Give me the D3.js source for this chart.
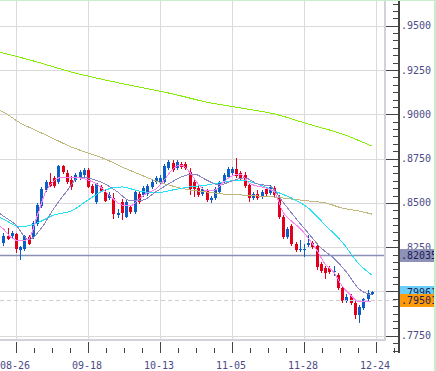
<!DOCTYPE html>
<html>
<head>
<meta charset="utf-8">
<title>Candle Chart</title>
<script src="https://d3js.org/d3.v7.min.js"></script>
<style>
  body { margin: 0; background: #fff; }
  svg text { font-family: "DejaVu Sans Mono", monospace; font-size: 10px; fill: #4c4c86; }
</style>
</head>
<body>
<div id="chart"></div>
<script>
var width = 436, height = 371;

// x axis: candle index of each date label
var tickIdx = [3, 20, 37, 54, 71, 88];
var tickLabels = ["08-26", "09-18", "10-13", "11-05", "11-28", "12-24"];
var priceTicks = [0.7750, 0.8000, 0.8250, 0.8500, 0.8750, 0.9000, 0.9250, 0.9500];

// daily candles, index 0..87
var opens = [0.8274,0.8313,0.8313,0.8325,0.8234,0.8240,0.8308,0.8308,0.8381,0.8483,
  0.8573,0.8618,0.8641,0.8618,0.8708,0.8669,0.8629,0.8629,0.8641,0.8657,
  0.8686,0.8595,0.8505,0.8590,0.8562,0.8528,0.8528,0.8432,0.8505,0.8420,
  0.8477,0.8449,0.8550,0.8545,0.8550,0.8590,0.8618,0.8612,0.8618,0.8697,
  0.8725,0.8697,0.8720,0.8720,0.8674,0.8618,0.8584,0.8550,0.8567,0.8516,
  0.8528,0.8562,0.8618,0.8646,0.8669,0.8691,0.8669,0.8657,0.8601,0.8528,
  0.8550,0.8533,0.8578,0.8556,0.8584,0.8533,0.8420,0.8308,0.8370,0.8268,
  0.8234,0.8234,0.8262,0.8274,0.8257,0.8155,0.8133,0.8133,0.8110,0.8093,
  0.8020,0.7947,0.7975,0.7935,0.7867,0.7907,0.7958,0.7986];
var highs = [0.8330,0.8358,0.8341,0.8330,0.8257,0.8319,0.8319,0.8398,0.8500,0.8590,
  0.8629,0.8669,0.8652,0.8714,0.8714,0.8686,0.8652,0.8669,0.8686,0.8697,
  0.8697,0.8607,0.8612,0.8601,0.8573,0.8562,0.8556,0.8466,0.8522,0.8522,
  0.8488,0.8573,0.8562,0.8595,0.8607,0.8629,0.8652,0.8657,0.8720,0.8742,
  0.8742,0.8742,0.8731,0.8731,0.8697,0.8629,0.8595,0.8590,0.8578,0.8539,
  0.8590,0.8624,0.8669,0.8703,0.8703,0.8753,0.8680,0.8674,0.8612,0.8562,
  0.8573,0.8573,0.8590,0.8601,0.8595,0.8545,0.8432,0.8364,0.8381,0.8279,
  0.8291,0.8268,0.8319,0.8285,0.8268,0.8167,0.8144,0.8144,0.8144,0.8104,
  0.8031,0.7986,0.7986,0.7947,0.7924,0.7963,0.8008,0.8003];
var lows = [0.8257,0.8291,0.8296,0.8217,0.8178,0.8229,0.8262,0.8296,0.8370,0.8471,
  0.8562,0.8590,0.8584,0.8607,0.8663,0.8607,0.8573,0.8618,0.8629,0.8641,
  0.8584,0.8550,0.8494,0.8562,0.8505,0.8516,0.8409,0.8415,0.8404,0.8415,
  0.8437,0.8437,0.8494,0.8533,0.8539,0.8578,0.8607,0.8601,0.8607,0.8686,
  0.8674,0.8686,0.8691,0.8686,0.8545,0.8533,0.8533,0.8539,0.8505,0.8500,
  0.8516,0.8550,0.8607,0.8635,0.8657,0.8641,0.8629,0.8584,0.8505,0.8516,
  0.8516,0.8522,0.8539,0.8545,0.8533,0.8409,0.8296,0.8296,0.8257,0.8223,
  0.8223,0.8195,0.8251,0.8240,0.8121,0.8104,0.8071,0.8099,0.8087,0.8008,
  0.7935,0.7935,0.7924,0.7845,0.7822,0.7896,0.7947,0.7980];
var closes = [0.8313,0.8296,0.8330,0.8240,0.8251,0.8313,0.8268,0.8387,0.8488,0.8578,
  0.8618,0.8595,0.8595,0.8708,0.8674,0.8618,0.8590,0.8657,0.8674,0.8686,
  0.8590,0.8556,0.8612,0.8567,0.8511,0.8545,0.8437,0.8443,0.8443,0.8505,
  0.8449,0.8562,0.8505,0.8584,0.8595,0.8618,0.8641,0.8641,0.8708,0.8731,
  0.8686,0.8731,0.8703,0.8697,0.8578,0.8578,0.8545,0.8578,0.8516,0.8528,
  0.8578,0.8612,0.8657,0.8691,0.8691,0.8652,0.8641,0.8595,0.8528,0.8550,
  0.8528,0.8562,0.8550,0.8590,0.8545,0.8420,0.8308,0.8353,0.8268,0.8234,
  0.8240,0.8240,0.8274,0.8251,0.8138,0.8116,0.8104,0.8110,0.8116,0.8020,
  0.7947,0.7969,0.7935,0.7867,0.7913,0.7958,0.7991,0.7997];

// moving averages: [candle index, value]
var maShort = [[-1,0.8375],[0,0.8353],[2,0.8302],[4,0.8285],[6,0.8296],[8,0.8426],[10,0.8562],
  [12,0.8624],[14,0.8646],[16,0.8641],[18,0.8641],[20,0.8629],[22,0.8607],[24,0.8567],
  [26,0.8522],[28,0.8488],[30,0.8483],[32,0.8522],[34,0.8556],[36,0.8578],[38,0.8629],
  [40,0.8691],[42,0.8714],[44,0.8674],[46,0.8607],[48,0.8567],[50,0.8573],[52,0.8618],
  [54,0.8652],[56,0.8663],[58,0.8612],[60,0.8595],[62,0.8584],[64,0.8562],[66,0.8449],
  [68,0.8398],[70,0.8358],[72,0.8302],[74,0.8234],[76,0.8155],[78,0.8110],[80,0.8031],
  [82,0.7980],[84,0.7941],[86,0.7941],[87,0.7947]];
var maMid = [[-1,0.8443],[0,0.8426],[3,0.8375],[6,0.8291],[9,0.8358],[12,0.8471],[15,0.8567],
  [18,0.8646],[21,0.8635],[24,0.8607],[27,0.8562],[30,0.8511],[33,0.8516],[36,0.8562],
  [39,0.8607],[42,0.8646],[45,0.8663],[48,0.8629],[51,0.8601],[54,0.8624],[57,0.8641],
  [60,0.8607],[63,0.8595],[66,0.8505],[69,0.8415],[72,0.8330],[75,0.8246],[78,0.8189],
  [81,0.8110],[84,0.8014],[87,0.7980]];
var ma25 = [[-1,0.8420],[0,0.8409],[4,0.8364],[8,0.8387],[12,0.8432],[16,0.8454],[20,0.8516],
  [24,0.8573],[28,0.8590],[32,0.8567],[36,0.8556],[40,0.8573],[44,0.8590],[48,0.8601],
  [52,0.8618],[56,0.8629],[60,0.8607],[64,0.8567],[68,0.8528],[72,0.8471],[76,0.8375],
  [80,0.8279],[84,0.8155],[87,0.8093]];
var ma75 = [[-1,0.9024],[0,0.9013],[4,0.8951],[8,0.8906],[12,0.8861],[16,0.8816],[20,0.8782],
  [24,0.8748],[28,0.8703],[32,0.8663],[36,0.8624],[40,0.8595],[44,0.8573],[48,0.8562],
  [52,0.8550],[56,0.8545],[60,0.8539],[64,0.8533],[68,0.8522],[72,0.8511],[76,0.8500],
  [80,0.8471],[84,0.8454],[87,0.8437]];
var ma200 = [[-1,0.9352],[0,0.9346],[8,0.9295],[16,0.9239],[24,0.9194],[32,0.9154],[40,0.9115],
  [48,0.9069],[56,0.9036],[64,0.9002],[72,0.8945],[80,0.8889],[87,0.8821]];

// price markers on the right axis
var markValues = [0.82035, 0.79961, 0.79501];
var markLabels = [".82035", ".79961", ".79501"];

var plotW = 385, plotH = 340, axisX = 399;

var x = d3.scaleLinear().domain([3, 88]).range([16, 376]);
var y = d3.scaleLinear().domain([0.775, 0.95]).range([335.8, 25.7]);

var svg = d3.select('#chart')
  .append('svg')
  .attr('width', width)
  .attr('height', height);

var defs = svg.append('defs');
defs.append('clipPath').attr('id', 'plot')
  .append('rect').attr('x', 0).attr('y', 0).attr('width', plotW - 1).attr('height', plotH - 1);

// grid
var grid = svg.append('g').attr('shape-rendering', 'crispEdges');
grid.selectAll('line.h').data(priceTicks).enter().append('line')
  .attr('x1', 0).attr('x2', plotW)
  .attr('y1', function(d) { return Math.round(y(d)) + 0.5; })
  .attr('y2', function(d) { return Math.round(y(d)) + 0.5; })
  .attr('stroke', '#dadada');
grid.selectAll('line.v').data(tickIdx).enter().append('line')
  .attr('y1', 0).attr('y2', plotH)
  .attr('x1', function(d) { return Math.round(x(d)) + 0.5; })
  .attr('x2', function(d) { return Math.round(x(d)) + 0.5; })
  .attr('stroke', '#dadada');
// plot frame (right and bottom)
grid.append('path')
  .attr('d', 'M' + plotW + ',0V' + plotH + 'H0')
  .attr('fill', 'none').attr('stroke', '#d2d2da').attr('stroke-width', 2);

var plot = svg.append('g').attr('clip-path', 'url(#plot)');

// last price line and dashed line
plot.append('line')
  .attr('x1', 0).attr('x2', plotW)
  .attr('y1', y(markValues[0])).attr('y2', y(markValues[0]))
  .attr('stroke', '#8a8fb6').attr('stroke-width', 1.5);
svg.append('line')
  .attr('x1', 0).attr('x2', axisX)
  .attr('y1', Math.round(y(markValues[2])) + 0.5).attr('y2', Math.round(y(markValues[2])) + 0.5)
  .attr('stroke', '#cfcfcf').attr('stroke-dasharray', '4,3');

// candles
var idx = d3.range(opens.length);
var cg = plot.append('g').attr('shape-rendering', 'crispEdges');
function col(i) { return closes[i] >= opens[i] ? '#0b5fc6' : '#e2001a'; }
cg.selectAll('line.wick').data(idx).enter().append('line')
  .attr('x1', function(i) { return Math.round(x(i)) + 0.5; })
  .attr('x2', function(i) { return Math.round(x(i)) + 0.5; })
  .attr('y1', function(i) { return y(highs[i]); })
  .attr('y2', function(i) { return y(lows[i]); })
  .attr('stroke', col);
cg.selectAll('rect').data(idx).enter().append('rect')
  .attr('x', function(i) { return Math.round(x(i)) - 1; })
  .attr('width', 3)
  .attr('y', function(i) { return y(Math.max(opens[i], closes[i])); })
  .attr('height', function(i) { return Math.max(1, Math.abs(y(opens[i]) - y(closes[i]))); })
  .attr('fill', col);

// moving averages
var line = d3.line()
  .x(function(d) { return x(d[0]); })
  .y(function(d) { return y(d[1]); })
  .curve(d3.curveMonotoneX);
var maList = [ma200, ma75, ma25, maMid, maShort];
var maColors = ['#86ee00', '#bfb77c', '#22e2f6', '#8a86c6', '#ff80f6'];
plot.selectAll('path.ma').data(maList).enter().append('path')
  .attr('d', line)
  .attr('fill', 'none')
  .attr('shape-rendering', 'crispEdges')
  .attr('stroke', function(d, i) { return maColors[i]; })
  .attr('stroke-width', 1);

// y axis
var ax = svg.append('g').attr('shape-rendering', 'crispEdges').attr('stroke', '#444');
ax.append('line').attr('x1', axisX).attr('x2', axisX).attr('y1', 0).attr('y2', 353).attr('stroke-width', 2);
var minorY = d3.range(0, 60).map(function(k) { return 0.7500 + k * 0.025 / 6; })
  .filter(function(v) { return y(v) >= 0 && y(v) <= 353; });
ax.selectAll('line.ym').data(minorY).enter().append('line')
  .attr('x1', axisX - 6).attr('x2', axisX)
  .attr('y1', function(d) { return Math.round(y(d)) + 0.5; })
  .attr('y2', function(d) { return Math.round(y(d)) + 0.5; });
ax.selectAll('line.yM').data(priceTicks).enter().append('line')
  .attr('x1', plotW + 1).attr('x2', axisX)
  .attr('y1', function(d) { return Math.round(y(d)) + 0.5; })
  .attr('y2', function(d) { return Math.round(y(d)) + 0.5; });

// x axis ticks
var minorX = d3.range(0, 22).map(function(k) { return 3 + k * 17 / 4; })
  .filter(function(v) { return x(v) <= axisX - 2; });
ax.selectAll('line.xm').data(minorX).enter().append('line')
  .attr('x1', function(d) { return Math.round(x(d)) + 0.5; })
  .attr('x2', function(d) { return Math.round(x(d)) + 0.5; })
  .attr('y1', 348).attr('y2', 353);
ax.selectAll('line.xM').data(tickIdx).enter().append('line')
  .attr('x1', function(d) { return Math.round(x(d)) + 0.5; })
  .attr('x2', function(d) { return Math.round(x(d)) + 0.5; })
  .attr('y1', 342).attr('y2', 353);

svg.selectAll('text.xl').data(tickLabels).enter().append('text')
  .attr('x', function(d, i) { return x(tickIdx[i]) - 1; })
  .attr('y', 369)
  .attr('text-anchor', 'middle')
  .text(function(d) { return d; });

var fmt = d3.format('.4f');
svg.selectAll('text.yl').data(priceTicks).enter().append('text')
  .attr('x', 401)
  .attr('y', function(d) { return y(d) + 3.5; })
  .text(function(d) { return fmt(d).replace(/^0/, ''); });

// price marker boxes, later ones drawn over earlier ones
var boxColors = ['#8e92b8', '#6ccdf6', '#ff9a0a'];
var marks = svg.selectAll('g.mark').data(markValues).enter().append('g');
marks.append('rect')
  .attr('x', 400).attr('width', 36)
  .attr('y', function(d) { return Math.round(y(d) - 6.5); })
  .attr('height', 13)
  .attr('fill', function(d, i) { return boxColors[i]; });
marks.append('text')
  .attr('x', 401)
  .attr('y', function(d) { return y(d) + 3.5; })
  .style('fill', '#1d1d55')
  .text(function(d, i) { return markLabels[i]; });

// window edge
svg.append('rect').attr('x', 0).attr('y', 0).attr('width', width).attr('height', 1).attr('fill', '#c8efcc');
svg.append('rect').attr('x', 434).attr('y', 0).attr('width', 2).attr('height', height).attr('fill', '#c8efcc');
</script>
</body>
</html>
